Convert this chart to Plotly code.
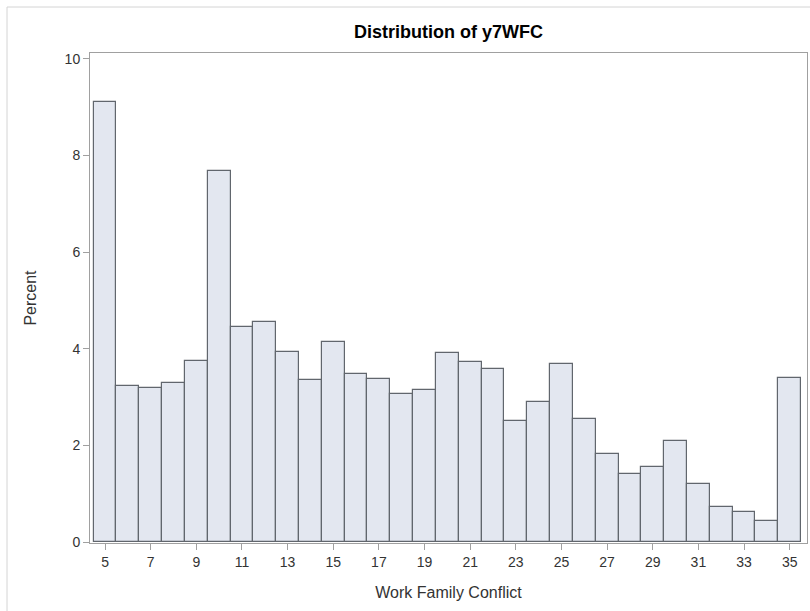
import plotly.graph_objects as go

# Data
scores = list(range(5, 36))
percent = [9.11, 3.23, 3.18, 3.30, 3.75, 7.68, 4.44, 4.55, 3.93, 3.35,
           4.13, 3.48, 3.37, 3.07, 3.15, 3.92, 3.73, 3.58, 2.50, 2.89,
           3.68, 2.54, 1.83, 1.41, 1.56, 2.09, 1.21, 0.72, 0.63, 0.43, 3.40]
x_ticks = list(range(5, 36, 2))
y_ticks = [0, 2, 4, 6, 8, 10]

title_text = "Distribution of y7WFC"
x_title = "Work Family Conflict"
y_title = "Percent"

FONT = "Liberation Sans, Arial, sans-serif"

fig = go.Figure(
    go.Bar(
        x=scores,
        y=percent,
        width=1,
        marker=dict(color="#e3e7f0", line=dict(color="#61666d", width=1.2)),
        hoverinfo="x+y",
    )
)

fig.update_layout(
    width=810,
    height=611,
    margin=dict(l=90, r=3, t=53, b=68),
    paper_bgcolor="white",
    plot_bgcolor="white",
    bargap=0,
    showlegend=False,
    title=dict(
        text="<b>" + title_text + "</b>",
        x=(90 + 807) / 2 / 810,
        xanchor="center",
        y=1 - 32 / 611,
        yanchor="middle",
        font=dict(family=FONT, size=18, color="#000000"),
    ),
    font=dict(family=FONT, size=14, color="#333333"),
    shapes=[
        dict(
            type="rect", xref="paper", yref="paper",
            x0=(7 - 90) / 717, x1=(815 - 90) / 717,
            y0=(543 - 620) / 490, y1=(543 - 7) / 490,
            line=dict(color="#d4d4d4", width=1),
            fillcolor="rgba(0,0,0,0)",
            layer="below",
        )
    ],
)

fig.update_xaxes(
    range=[4.34, 35.76],
    tickmode="array",
    tickvals=x_ticks,
    ticktext=[str(v) for v in x_ticks],
    ticks="outside",
    ticklen=6,
    tickcolor="#a0a0a0",
    showline=True,
    mirror=True,
    linecolor="#a0a0a0",
    linewidth=1,
    showgrid=False,
    zeroline=False,
    tickfont=dict(family=FONT, size=14, color="#333333"),
    title=dict(text=x_title, font=dict(family=FONT, size=16, color="#333333"), standoff=18),
)

fig.update_yaxes(
    range=[-0.02, 10.12],
    tickmode="array",
    tickvals=y_ticks,
    ticktext=[str(v) for v in y_ticks],
    ticks="outside",
    ticklen=6,
    tickcolor="#a0a0a0",
    showline=True,
    mirror=True,
    linecolor="#a0a0a0",
    linewidth=1,
    showgrid=False,
    zeroline=False,
    tickfont=dict(family=FONT, size=14, color="#333333"),
    title=dict(text=y_title, font=dict(family=FONT, size=16, color="#333333"), standoff=24),
)

fig.write_html(
    "out.html",
    config={"displayModeBar": False},
    post_script="document.body.style.margin='0';document.body.style.padding='0';",
)
